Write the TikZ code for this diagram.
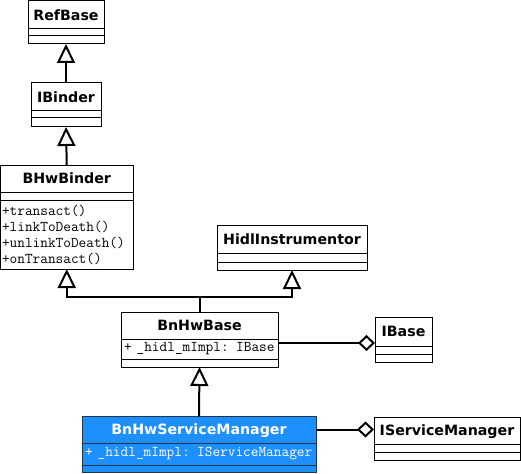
\documentclass[tikz,border=0pt]{standalone}
\usepackage{fontspec}
\usetikzlibrary{positioning,arrows.meta}
\newfontfamily\clsfont{DejaVu Sans}
\definecolor{smblue}{HTML}{1E8FFF}
\definecolor{smline}{HTML}{1F3550}
\tikzset{
  clsname/.style={draw, line width=1pt, outer sep=0pt, inner sep=0pt, anchor=north,
    text height=10.4pt, text depth=0pt, font=\clsfont\bfseries\fontsize{14.2}{16}\selectfont},
  clspart/.style={draw, line width=1pt, outer sep=0pt, inner xsep=3pt, inner ysep=0pt,
    align=left, font=\ttfamily\fontsize{14.9}{16}\selectfont},
  gen/.style={line width=2pt, -{Triangle[open, length=19pt, width=18pt]}},
  agg/.style={line width=2pt, -{Diamond[open, length=17pt, width=16pt]}}
}
\begin{document}
\begin{tikzpicture}[x=1pt,y=-1pt]
\useasboundingbox (0,0) rectangle (521,473);

% plain classes: name/x/top/width/h1/h2/h3/label
\foreach \n/\x/\t/\w/\ha/\hb/\hc/\l in {refbase/66/1/76/28/7/8/RefBase,
  ibinder/66/83/70/28/7/9/IBinder,
  hidl/292/225/150/28/9/8/HidlInstrumentor,
  ibase/403.5/317/57/29/8/8/IBase,
  ism/447/417/146/27/8/8/IServiceManager}
{
  \node[clsname, minimum width=\w pt, minimum height=\ha pt] (\n) at (\x,\t) {\l};
  \node[clspart, minimum width=\w pt, minimum height=\hb pt, below=0pt of \n] (\n-a) {};
  \node[clspart, minimum width=\w pt, minimum height=\hc pt, below=0pt of \n-a] (\n-o) {};
}

% BHwBinder
\node[clsname, minimum width=132.5pt, minimum height=27pt] (bhwbinder) at (66.75,165) {BHwBinder};
\node[clspart, minimum width=132.5pt, minimum height=8pt, below=0pt of bhwbinder] (bhwbinder-a) {};
\node[clspart, inner xsep=1.5pt, text width=129.5pt, minimum height=69pt, below=0pt of bhwbinder-a] (bhwbinder-o)
  {+transact()\\+linkToDeath()\\+unlinkToDeath()\\+onTransact()};

% BnHwBase
\node[clsname, minimum width=157pt, minimum height=27pt] (bnhwbase) at (199.5,312) {BnHwBase};
\node[clspart, text width=151pt, minimum height=20pt, below=0pt of bnhwbase] (bnhwbase-a)
  {+ \_hidl\_mImpl: IBase};
\node[clspart, minimum width=157pt, minimum height=8pt, below=0pt of bnhwbase-a] (bnhwbase-o) {};

% BnHwServiceManager
\node[clsname, draw=smline, fill=smblue, text=white, minimum width=234pt, minimum height=27pt]
  (bnhwsm) at (199,416) {BnHwServiceManager};
\node[clspart, draw=smline, fill=smblue, text=white, text width=228pt, minimum height=22pt,
  below=0pt of bnhwsm] (bnhwsm-a) {+ \_hidl\_mImpl: IServiceManager};
\node[clspart, draw=smline, fill=smblue, minimum width=234pt, minimum height=7pt,
  below=0pt of bnhwsm-a] (bnhwsm-o) {};

% generalization
\draw[gen] (ibinder.north) -- (refbase-o.south);
\draw[gen] (bhwbinder.north) -- (ibinder-o.south);
\draw[gen] (bnhwbase.north) -- ++(0,-15) coordinate (fork) -| (bhwbinder-o.south);
\draw[gen] (fork) -| (hidl-o.south);
\draw[gen] (bnhwsm.north) -- (bnhwbase-o.south);

% aggregation
\coordinate (ibase-hook) at ([yshift=3pt]ibase.south west);
\draw[agg] (bnhwbase.east |- ibase-hook) -- (ibase-hook);
\draw[agg] (bnhwsm.east) -- (bnhwsm.east -| ism.west);

\end{tikzpicture}
\end{document}
